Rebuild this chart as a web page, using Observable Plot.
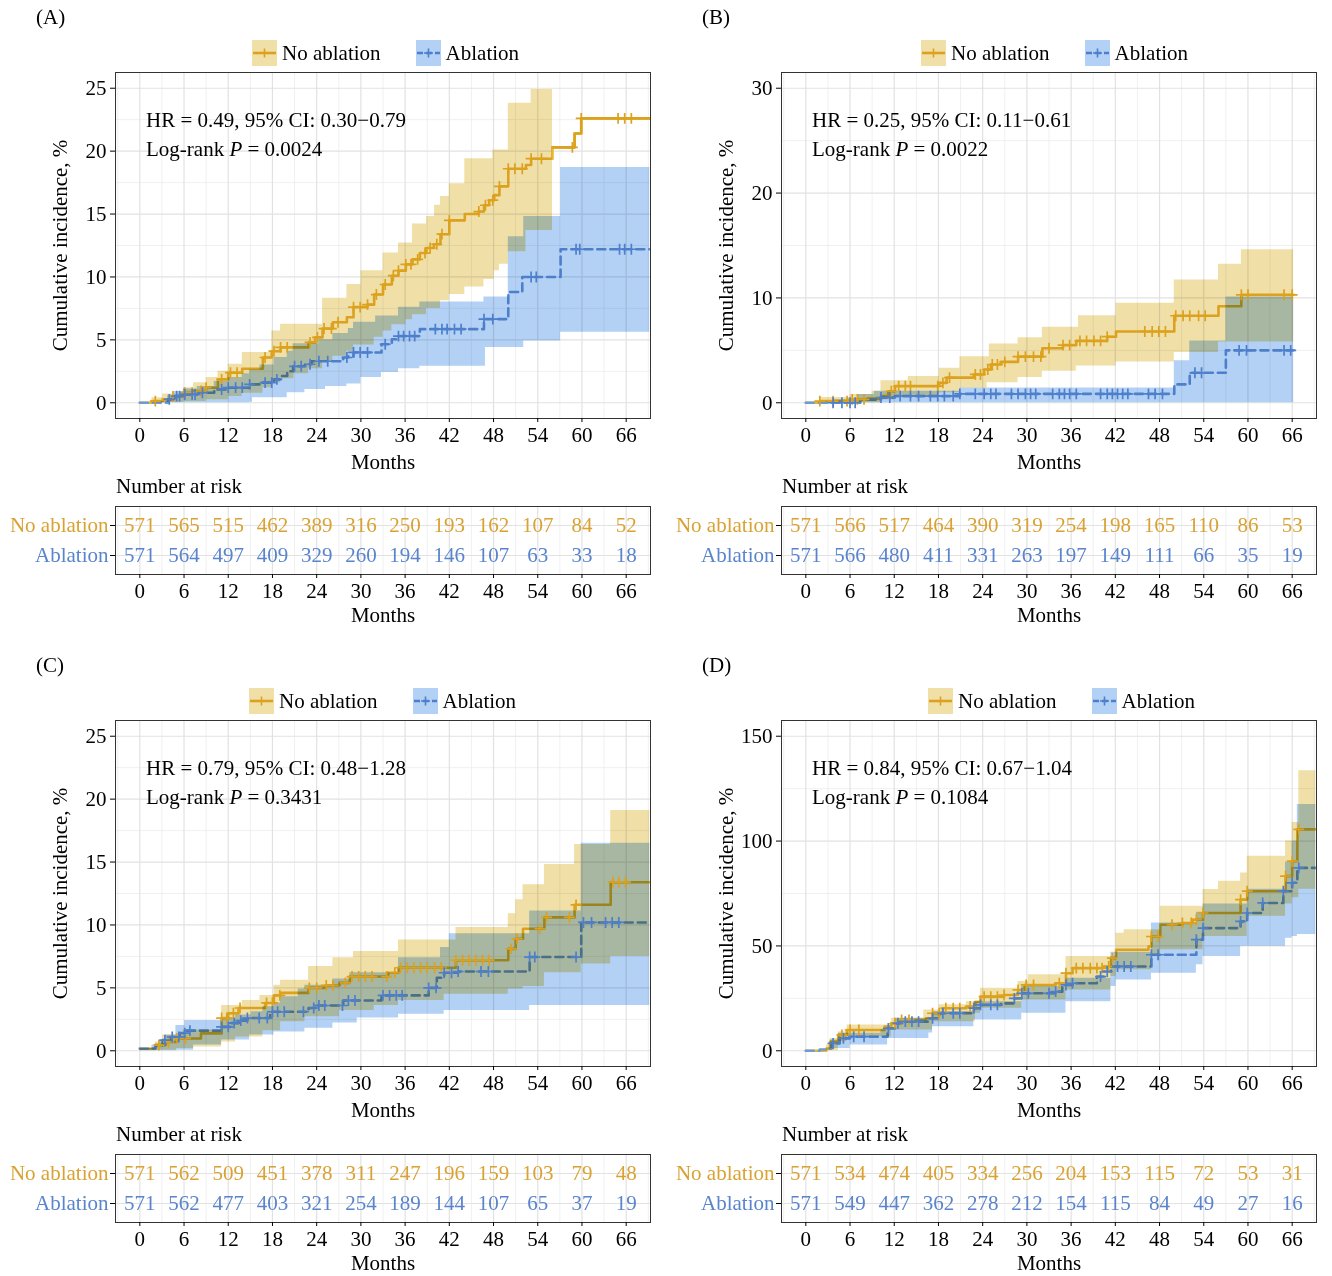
<!DOCTYPE html>
<html><head><meta charset="utf-8">
<script src="https://cdn.jsdelivr.net/npm/d3@7"></script>
<script src="https://cdn.jsdelivr.net/npm/@observablehq/plot@0.6"></script>
<style>
body{margin:0;background:#fff;}
#root{position:relative;width:1332px;height:1276px;overflow:hidden;font-family:"Liberation Serif","Times New Roman",serif;color:#000;background:#fff;}
.abs{position:absolute;white-space:nowrap;font-size:21px;line-height:24px;}
.legend{display:flex;align-items:center;height:26px;}
.legend .item{display:flex;align-items:center;margin-right:35px;line-height:26px;}
.legend svg{margin-right:5px;display:block;}
</style></head><body><div id="root"></div><script>
// ---------- shared tick labels / categories ----------
const X_TICKS = [0,6,12,18,24,30,36,42,48,54,60,66];
const X_MINOR = [-3,3,9,15,21,27,33,39,45,51,57,63,69];
const GROUPS = ["No ablation","Ablation"];
const PANEL_LABELS = ["(A)","(B)","(C)","(D)"];
const HR_TEXT = ["HR = 0.49, 95% CI: 0.30\u22120.79","HR = 0.25, 95% CI: 0.11\u22120.61","HR = 0.79, 95% CI: 0.48\u22121.28","HR = 0.84, 95% CI: 0.67\u22121.04"];
const P_TEXT = ["0.0024","0.0022","0.3431","0.1084"];
const Y_TICKS_A = [0,5,10,15,20,25];
const Y_MINOR_A = [2.5,7.5,12.5,17.5,22.5];
const Y_TICKS_B = [0,10,20,30];
const Y_MINOR_B = [5,15,25];
const Y_TICKS_C = [0,5,10,15,20,25];
const Y_MINOR_C = [2.5,7.5,12.5,17.5,22.5];
const Y_TICKS_D = [0,50,100,150];
const Y_MINOR_D = [25,75,125];

// ---------- Panel A ----------
const A_noEst = [[0,0],[1.65,0.13],[3.1,0.27],[4.5,0.5],[5.9,0.8],[7.3,0.93],[9.0,1.2],[10.6,1.86],[12.0,2.39],[13.9,2.7],[16.7,3.6],[17.9,4.1],[19.1,4.4],[22.9,4.8],[23.8,5.2],[24.8,5.9],[26.2,6.4],[28.1,6.8],[29.0,7.6],[30.9,7.8],[31.8,8.6],[33.0,9.4],[34.2,10.1],[35.1,10.5],[36.1,11.0],[37.0,11.4],[38.0,11.9],[38.9,12.3],[39.9,12.6],[40.8,13.4],[42.0,14.5],[44.1,15.0],[46.0,15.2],[46.7,15.7],[47.4,16.1],[48.1,16.5],[48.8,17.2],[50.0,18.6],[52.4,18.9],[53.1,19.4],[56.0,20.3],[59.0,21.4],[59.9,22.6],[69.2,22.6]];
const A_noHi = [[0,0],[1.65,0.4],[3.1,0.7],[5.9,1.2],[7.3,1.6],[9.0,2.0],[10.6,2.5],[12.0,3.06],[13.9,4.0],[17.9,5.7],[19.1,6.25],[24.8,8.3],[28.1,9.4],[30.0,10.5],[33.0,11.9],[35.1,12.7],[37.0,14.2],[38.9,14.8],[40.0,15.7],[40.8,16.4],[42.0,17.4],[44.1,19.4],[47.9,20.1],[50.0,23.8],[53.1,24.9],[56.0,24.9]];
const A_noLo = [[0,0],[3.1,0.02],[5.9,0.1],[9.0,0.25],[12.0,0.5],[13.9,0.75],[16.7,1.2],[17.9,1.6],[19.1,1.9],[20.9,2.3],[22.9,2.7],[24.8,3.3],[26.2,3.7],[28.1,4.1],[29.0,4.6],[31.8,5.2],[33.0,5.7],[34.2,6.2],[36.1,6.6],[37.0,7.0],[38.9,7.5],[40.8,8.1],[42.0,8.6],[44.1,9.2],[46.7,9.8],[48.1,10.5],[48.8,11.0],[50.0,12.0],[52.4,13.7],[56.0,13.7]];
const A_noCens = [2.1,4.5,6.1,7.1,8.3,9.0,11.1,12.3,13.2,17.0,18.2,19.1,20.0,23.1,24.1,25.0,26.0,26.9,29.0,29.9,30.9,32.1,33.3,34.4,35.1,36.1,36.8,37.7,38.7,39.4,40.3,41.0,42.0,46.0,46.9,47.9,48.8,50.0,50.9,51.9,53.1,54.5,58.7,59.9,64.9,65.8,66.7];
const A_abEst = [[0,0],[1.65,0],[3.8,0.27],[4.7,0.53],[5.9,0.66],[7.8,0.8],[10.1,1.06],[12.0,1.2],[14.9,1.46],[16.3,1.6],[18.2,1.86],[19.1,2.13],[20.0,2.5],[20.8,2.9],[22.4,3.06],[23.3,3.3],[27.6,3.6],[28.3,3.7],[29.0,4.0],[32.8,4.65],[34.2,5.05],[35.1,5.3],[38.0,5.85],[46.7,6.65],[50.0,8.8],[51.9,10.0],[57.1,12.2],[69.2,12.2]];
const A_abHi = [[0,0],[1.65,0.1],[3.8,0.6],[4.7,0.9],[5.9,1.1],[7.8,1.3],[10.1,1.7],[12.0,2.0],[13.9,2.3],[14.9,2.6],[16.3,3.0],[18.2,3.6],[20.0,4.1],[20.8,4.7],[24.3,5.0],[26.2,5.5],[28.3,5.9],[29.0,6.4],[32.0,6.9],[35.1,7.6],[38.0,8.0],[46.7,8.4],[50.0,13.2],[52.1,14.8],[57.1,18.7],[69.2,18.7]];
const A_abLo = [[0,0],[14.9,0.05],[15.3,0.4],[20.0,0.8],[22.4,1.05],[25.2,1.3],[28.1,1.5],[30.0,2.0],[32.8,2.4],[35.1,2.7],[38.0,2.9],[46.9,4.4],[52.1,4.9],[57.1,5.6],[69.2,5.6]];
const A_abCens = [4.0,5.0,5.4,6.1,7.1,7.5,8.5,11.1,12.0,13.0,13.9,14.9,17.0,17.9,18.6,21.0,21.9,23.1,24.3,25.5,28.1,29.0,29.9,30.9,33.3,35.1,35.8,36.6,37.3,40.1,41.0,41.7,42.7,43.6,46.7,47.9,53.1,53.8,59.2,59.7,65.1,65.8,66.7];
const A_noRisk = [571,565,515,462,389,316,250,193,162,107,84,52];
const A_abRisk = [571,564,497,409,329,260,194,146,107,63,33,18];

// ---------- Panel B ----------
const B_noEst = [[0,0],[1.9,0.16],[6.0,0.32],[8.4,0.4],[10.2,0.63],[11.2,1.1],[12.1,1.59],[18.1,1.9],[19.1,2.4],[22.8,2.7],[24.2,3.17],[25.1,3.65],[26.5,3.9],[28.8,4.4],[32.1,5.2],[34.9,5.5],[36.7,5.9],[40.9,6.3],[42.1,6.8],[50.0,8.3],[56.0,9.2],[59.1,10.3],[66.2,10.3]];
const B_noHi = [[0,0],[1.9,0.5],[6.0,0.8],[9.0,1.1],[10.2,2.1],[13.9,2.5],[18.1,3.3],[20.9,4.4],[24.9,5.6],[28.8,6.2],[32.1,7.2],[37.0,8.3],[42.1,9.5],[50.0,11.7],[56.0,13.2],[59.1,14.6],[66.2,14.6]];
const B_noLo = [[0,0],[10.2,0.3],[12.1,0.6],[18.1,0.95],[20.9,1.4],[24.6,1.9],[28.8,2.4],[32.1,3.0],[36.7,3.5],[42.1,3.9],[50.0,4.8],[56.0,5.8],[66.2,5.8]];
const B_noCens = [1.9,3.7,5.6,6.3,7.0,7.9,11.6,12.6,13.5,14.2,17.9,18.6,19.5,23.0,23.7,24.7,25.3,26.0,27.0,28.8,29.8,30.9,31.9,33.0,34.9,35.8,37.2,38.1,39.1,40.0,40.9,46.0,47.0,47.9,48.8,50.2,51.2,52.1,53.3,54.2,59.1,60.0,64.9,66.0];
const B_abEst = [[0,0],[7.4,0.3],[10.2,0.5],[12.1,0.63],[20.9,0.85],[50.0,1.75],[52.1,2.86],[57.0,5.0],[66.2,5.0]];
const B_abHi = [[0,0],[3.7,0.3],[7.0,0.8],[9.3,1.1],[20.9,1.4],[50.0,4.0],[52.1,5.9],[57.0,10.1],[66.2,10.1]];
const B_abLo = [[0,0],[66.2,0]];
const B_abCens = [3.7,4.9,6.0,6.7,10.2,11.4,12.8,14.2,15.3,16.9,17.9,18.8,20.0,20.9,23.0,24.2,25.1,25.8,27.9,28.8,29.8,30.5,31.2,33.5,34.4,35.1,35.8,36.7,40.0,40.9,41.6,42.3,43.0,43.7,46.5,47.4,48.4,52.8,53.7,58.8,59.8,64.9,65.8];
const B_noRisk = [571,566,517,464,390,319,254,198,165,110,86,53];
const B_abRisk = [571,566,480,411,331,263,197,149,111,66,35,19];

// ---------- Panel C ----------
const C_noEst = [[0,0.18],[2.1,0.45],[3.5,0.7],[5.0,0.98],[8.3,1.38],[11.1,2.6],[12.0,2.98],[13.4,3.4],[17.0,3.8],[18.2,4.4],[19.1,4.6],[22.9,5.0],[25.2,5.2],[27.1,5.4],[28.5,5.9],[33.7,6.2],[35.1,6.6],[42.9,7.2],[50.0,8.1],[51.0,8.9],[52.0,9.7],[54.9,10.6],[59.0,11.6],[63.9,13.4],[69.2,13.4]];
const C_noHi = [[0,0.18],[2.1,0.7],[3.1,1.25],[5.9,1.65],[11.1,3.6],[13.9,4.0],[16.3,4.4],[18.2,5.2],[19.1,5.6],[22.9,6.7],[26.2,7.4],[29.0,7.9],[35.1,8.8],[42.9,9.8],[50.0,10.9],[51.0,12.0],[52.0,13.2],[54.9,14.8],[59.0,16.4],[63.9,19.1],[69.2,19.1]];
const C_noLo = [[0,0],[2.1,0.05],[5.0,0.18],[7.3,0.3],[11.1,0.7],[13.0,1.1],[16.7,1.6],[19.1,2.3],[22.4,2.7],[27.1,3.2],[31.8,3.6],[35.1,4.0],[41.3,4.5],[50.0,4.9],[52.0,5.1],[54.9,6.2],[59.9,6.9],[63.9,7.5],[69.2,7.5]];
const C_noCens = [2.6,3.9,5.0,6.2,11.1,11.8,12.7,13.6,17.2,18.0,19.0,23.0,24.0,25.3,26.2,27.9,28.8,29.7,30.6,31.5,33.5,34.6,35.4,36.3,37.2,38.1,39.0,40.0,40.9,42.9,43.8,44.7,45.6,46.5,47.4,50.4,51.2,54.3,55.2,58.3,59.2,64.2,65.0,65.9];
const C_abEst = [[0,0.18],[2.1,0.45],[3.1,0.85],[4.2,1.1],[5.4,1.4],[6.4,1.6],[11.1,1.9],[12.3,2.2],[13.4,2.4],[14.6,2.6],[17.7,3.1],[22.9,3.4],[23.8,3.6],[27.6,4.0],[32.8,4.4],[39.2,5.0],[40.3,5.8],[41.3,6.2],[43.2,6.3],[52.9,7.45],[59.9,10.2],[69.2,10.2]];
const C_abHi = [[0,0.18],[1.65,0.45],[2.6,0.85],[3.5,1.25],[4.9,2.0],[6.1,2.4],[11.1,2.6],[13.0,2.85],[15.1,3.1],[16.7,3.5],[18.2,3.8],[19.1,4.3],[21.5,4.9],[22.4,5.2],[26.2,5.7],[28.5,6.2],[35.1,7.4],[40.8,8.2],[42.0,9.3],[52.9,11.1],[59.9,16.5],[69.2,16.5]];
const C_abLo = [[0,0],[5.0,0.05],[7.3,0.45],[11.1,0.85],[14.9,1.25],[18.2,1.5],[22.4,1.8],[26.2,2.2],[29.5,2.6],[35.1,2.9],[41.3,3.2],[52.9,3.6],[69.2,3.6]];
const C_abCens = [3.4,4.4,5.3,6.1,6.8,11.1,12.0,12.8,13.7,14.6,16.2,17.3,18.0,18.7,19.6,22.2,23.6,24.3,25.1,27.5,28.3,29.2,33.0,33.9,34.8,35.6,39.2,40.2,41.3,42.3,43.2,46.3,47.3,52.9,53.6,59.2,60.2,61.3,63.2,64.1,65.0];
const C_noRisk = [571,562,509,451,378,311,247,196,159,103,79,48];
const C_abRisk = [571,562,477,403,321,254,189,144,107,65,37,19];

// ---------- Panel D ----------
const D_noEst = [[0,0],[2.8,1.1],[3.3,4.3],[4.4,7.5],[5.6,9.9],[10.7,11.5],[11.6,13.1],[12.8,14.7],[16.3,15.5],[17.2,17.9],[18.6,20.3],[21.8,21.1],[23.0,23.4],[23.7,25.8],[26.9,26.6],[28.8,29.0],[29.7,31.4],[33.9,32.2],[35.3,37.0],[36.2,39.4],[40.4,40.2],[41.4,44.2],[42.1,48.2],[46.5,49.8],[46.9,54.5],[48.1,60.1],[51.1,60.9],[52.5,62.5],[53.9,65.7],[59.0,72.1],[59.9,76.1],[65.1,83.3],[66.0,90.4],[66.7,105.6],[69.2,105.6]];
const D_noHi = [[0,0],[2.8,2.7],[3.3,5.9],[4.4,9.1],[5.6,12.3],[11.6,15.5],[16.0,19.5],[18.1,21.9],[21.8,23.4],[23.7,29.8],[28.8,33.0],[30.2,36.2],[35.3,45.0],[42.1,56.1],[43.2,57.7],[48.1,68.9],[53.9,76.9],[56.0,80.9],[59.0,84.8],[59.9,92.8],[65.1,100],[66.0,108.8],[66.9,133.5],[69.2,133.5]];
const D_noLo = [[0,0],[4.4,4.3],[5.6,6.7],[11.6,9.9],[17.2,13.9],[23.0,17.9],[23.7,20.3],[29.3,24.2],[35.3,29.0],[41.4,35.4],[42.1,38.6],[46.9,45.0],[48.1,48.2],[53.9,54.5],[59.9,64.1],[65.1,70.0],[66.0,73.0],[66.9,77.0],[69.2,77.0]];
const D_noCens = [4.9,6.0,7.2,12.1,13.0,14.0,17.2,18.1,19.0,20.0,20.9,22.3,24.2,25.1,26.0,26.9,28.8,29.9,30.9,34.4,35.3,36.7,37.6,38.6,39.5,40.2,41.1,41.6,46.9,47.8,49.7,51.1,52.3,53.0,53.9,59.0,59.9,65.1,66.0,66.9];
const D_abEst = [[0,0],[1.9,0.6],[2.8,1.1],[3.5,3.5],[4.6,5.9],[6.0,6.7],[11.1,10.7],[12.1,13.1],[12.8,13.9],[16.7,15.5],[18.1,17.9],[22.8,20.3],[23.7,21.9],[26.5,22.6],[28.3,25.0],[29.3,27.4],[33.9,28.2],[34.8,31.4],[36.2,32.2],[39.5,35.4],[40.4,37.8],[41.4,40.2],[46.9,45.8],[53.0,53.0],[53.9,58.5],[59.0,61.7],[59.9,65.7],[62.0,70.5],[64.8,76.1],[66.0,80.1],[66.7,87.2],[69.2,87.2]];
const D_abHi = [[0,0],[3.3,5.1],[4.4,8.3],[10.2,9.9],[12.1,15.5],[17.2,18.7],[22.8,23.4],[29.3,30.6],[35.3,34.6],[41.4,47.0],[46.9,60.9],[53.0,66.0],[53.9,70.0],[59.9,77.0],[65.1,90.0],[66.0,100.0],[66.7,117.5],[69.2,117.5]];
const D_abLo = [[0,0],[3.3,1.1],[6.0,2.7],[11.1,5.9],[16.7,8.5],[17.2,11.5],[22.8,14.7],[29.3,17.9],[35.3,23.4],[41.4,30.6],[42.1,33.8],[46.9,37.0],[53.0,41.0],[53.9,45.0],[59.0,49.8],[65.1,53.7],[66.0,54.5],[66.7,55.5],[69.2,55.5]];
const D_abCens = [3.7,5.1,6.5,7.9,11.2,12.5,13.5,14.4,15.3,17.2,18.6,20.0,20.9,22.8,23.7,25.1,26.0,28.3,29.3,30.2,33.0,33.9,35.3,36.2,40.0,40.9,42.3,43.2,44.1,46.9,47.8,53.0,53.9,59.0,59.9,62.0,64.8,66.0,66.9];
const D_noRisk = [571,534,474,405,334,256,204,153,115,72,53,31];
const D_abRisk = [571,549,447,362,278,212,154,115,84,49,27,16];

// ---------- styling ----------
const FONT = '"Liberation Serif", "Times New Roman", serif';
const ORANGE = "#DCA21E", BLUE = "#4E7FCC";
const ORANGE_UNDER = "#EAB82E", BLUE_UNDER = "#6F9BD4";
const O_FILL = "#F0E0A8", B_FILL = "#B3D1F5";
const O_TEXT = "#D9A233", B_TEXT = "#5A84CC";
const GRID_MAJOR = "#e2e2e2", GRID_MINOR = "#ececec";
const X_DOMAIN = [-3.3, 69.3];
const DASH = "8,5";

const PANELS = [
  {i:0, ox:0,   oy:0,   yDomain:[-1.25,26.25], yTicks:Y_TICKS_A, yMinor:Y_MINOR_A, noEst:A_noEst, noLo:A_noLo, noHi:A_noHi, noCens:A_noCens, abEst:A_abEst, abLo:A_abLo, abHi:A_abHi, abCens:A_abCens, noRisk:A_noRisk, abRisk:A_abRisk, legendLeft:252},
  {i:1, ox:666, oy:0,   yDomain:[-1.5,31.5],   yTicks:Y_TICKS_B, yMinor:Y_MINOR_B, noEst:B_noEst, noLo:B_noLo, noHi:B_noHi, noCens:B_noCens, abEst:B_abEst, abLo:B_abLo, abHi:B_abHi, abCens:B_abCens, noRisk:B_noRisk, abRisk:B_abRisk, legendLeft:255},
  {i:2, ox:0,   oy:648, yDomain:[-1.25,26.25], yTicks:Y_TICKS_C, yMinor:Y_MINOR_C, noEst:C_noEst, noLo:C_noLo, noHi:C_noHi, noCens:C_noCens, abEst:C_abEst, abLo:C_abLo, abHi:C_abHi, abCens:C_abCens, noRisk:C_noRisk, abRisk:C_abRisk, legendLeft:249},
  {i:3, ox:666, oy:648, yDomain:[-7.5,157.5],  yTicks:Y_TICKS_D, yMinor:Y_MINOR_D, noEst:D_noEst, noLo:D_noLo, noHi:D_noHi, noCens:D_noCens, abEst:D_abEst, abLo:D_abLo, abHi:D_abHi, abCens:D_abCens, noRisk:D_noRisk, abRisk:D_abRisk, legendLeft:262}
];

function stepAt(est, t){ let v = est[0][1]; for (const d of est){ if (d[0] <= t + 1e-9) v = d[1]; else break; } return v; }
function ribbon(lo, hi){
  const ts = Array.from(new Set([...lo.map(d=>d[0]), ...hi.map(d=>d[0])])).sort((a,b)=>a-b);
  const end = hi[hi.length-1][0];
  return ts.filter(t => t <= end).map(t => ({t, lo: stepAt(lo,t), hi: stepAt(hi,t)}));
}
function tail(est, tEnd){
  const pts = est.filter(d => d[0] > tEnd + 1e-9);
  if (!pts.length) return [];
  return [[tEnd, stepAt(est, tEnd)], ...pts];
}
const pts = est => est.map(d => ({t:d[0], v:d[1]}));
const cens = (est, cs) => cs.map(t => ({t, v: stepAt(est, t)}));
const baseStyle = {fontFamily: FONT, fontSize: "21px", color: "#000", background: "transparent", overflow: "visible"};

function mainPlot(P){
  const noRib = ribbon(P.noLo, P.noHi), abRib = ribbon(P.abLo, P.abHi);
  const noEnd = noRib[noRib.length-1].t, abEnd = abRib[abRib.length-1].t;
  const svg = Plot.plot({
    width: 660, height: 420, marginLeft: 115, marginRight: 10, marginTop: 12, marginBottom: 62,
    style: baseStyle,
    x: {domain: X_DOMAIN}, y: {domain: P.yDomain},
    marks: [
      Plot.ruleX(X_MINOR, {stroke: GRID_MINOR, strokeWidth: 0.8}),
      Plot.ruleY(P.yMinor, {stroke: GRID_MINOR, strokeWidth: 0.8}),
      Plot.ruleX(X_TICKS, {stroke: GRID_MAJOR, strokeWidth: 1.2}),
      Plot.ruleY(P.yTicks, {stroke: GRID_MAJOR, strokeWidth: 1.2}),
      Plot.line(pts(P.noEst), {x:"t", y:"v", curve:"step-after", stroke: ORANGE_UNDER, strokeWidth: 2.6, clip: true}),
      Plot.line(pts(P.abEst), {x:"t", y:"v", curve:"step-after", stroke: BLUE_UNDER, strokeWidth: 2.6, strokeDasharray: DASH, clip: true}),
      Plot.areaY(noRib, {x:"t", y1:"lo", y2:"hi", curve:"step-after", fill: O_FILL, clip: true}),
      Plot.areaY(abRib, {x:"t", y1:"lo", y2:"hi", curve:"step-after", fill: B_FILL, clip: true}),
      Plot.line(pts(tail(P.noEst, noEnd)), {x:"t", y:"v", curve:"step-after", stroke: ORANGE, strokeWidth: 2.6, clip: true}),
      Plot.line(pts(tail(P.abEst, abEnd)), {x:"t", y:"v", curve:"step-after", stroke: BLUE, strokeWidth: 2.6, strokeDasharray: DASH, clip: true}),
      Plot.dot(cens(P.noEst, P.noCens), {x:"t", y:"v", symbol:"plus", r:3.6, stroke: ORANGE, strokeWidth: 1.7}),
      Plot.dot(cens(P.abEst, P.abCens), {x:"t", y:"v", symbol:"plus", r:3.6, stroke: BLUE, strokeWidth: 1.7}),
      Plot.frame({stroke: "#333", strokeWidth: 1}),
      Plot.axisX(X_TICKS, {tickSize: 4, tickPadding: 5, label: null, tickFormat: d => String(d)}),
      Plot.axisY(P.yTicks, {tickSize: 5, tickPadding: 4, label: null, tickFormat: d => String(d)}),
      Plot.text(["Months"], {frameAnchor: "bottom", dy: 44, text: d => d, fontSize: 21, lineAnchor: "middle", textAnchor: "middle"}),
      Plot.text(["Cumulative incidence, %"], {frameAnchor: "left", dx: -55, rotate: -90, text: d => d, fontSize: 21, textAnchor: "middle", lineAnchor: "middle"})
    ]
  });
  svg.querySelectorAll('g[aria-label="area"]').forEach(g => g.style.mixBlendMode = "multiply");
  return svg;
}

function tablePlot(P){
  const rows = [];
  X_TICKS.forEach((t, k) => {
    rows.push({t, g: GROUPS[0], n: P.noRisk[k], c: O_TEXT});
    rows.push({t, g: GROUPS[1], n: P.abRisk[k], c: B_TEXT});
  });
  return Plot.plot({
    width: 660, height: 138, marginLeft: 115, marginRight: 10, marginTop: 10, marginBottom: 60,
    style: baseStyle,
    x: {domain: X_DOMAIN},
    y: {type: "point", domain: GROUPS, padding: 0.6},
    color: {type: "identity"},
    marks: [
      Plot.ruleX(X_MINOR, {stroke: GRID_MINOR, strokeWidth: 0.8}),
      Plot.ruleX(X_TICKS, {stroke: GRID_MAJOR, strokeWidth: 1.2}),
      Plot.ruleY(GROUPS, {y: d => d, stroke: GRID_MAJOR, strokeWidth: 1.2}),
      Plot.text(rows, {x: "t", y: "g", text: d => String(d.n), fill: "c", fontSize: 21}),
      Plot.frame({stroke: "#333", strokeWidth: 1}),
      Plot.axisX(X_TICKS, {tickSize: 4, tickPadding: 5, label: null, tickFormat: d => String(d)}),
      Plot.axisY(GROUPS, {tickSize: 5, tickPadding: 2, label: null, tickFormat: () => ""}),
      Plot.text(GROUPS, {y: d => d, text: d => d, frameAnchor: "left", dx: -7, textAnchor: "end", lineAnchor: "middle", fill: d => d === GROUPS[0] ? O_TEXT : B_TEXT, fontSize: 21}),
      Plot.text(["Months"], {frameAnchor: "bottom", dy: 41, text: d => d, fontSize: 21, lineAnchor: "middle", textAnchor: "middle"})
    ]
  });
}

function swatch(fill, stroke, dashed){
  return `<svg width="25" height="26"><rect width="25" height="26" fill="${fill}"/>` +
    `<line x1="1" x2="24" y1="13" y2="13" stroke="${stroke}" stroke-width="2.6" ${dashed ? 'stroke-dasharray="6,3"' : ''}/>` +
    `<path d="M12.5 8.5V17.5M8 13H17" stroke="${stroke}" stroke-width="1.6" fill="none"/></svg>`;
}

const root = document.getElementById("root");
function addDiv(html, left, top, extra){
  const d = document.createElement("div");
  d.className = "abs";
  d.style.left = left + "px"; d.style.top = top + "px";
  if (extra) Object.assign(d.style, extra);
  d.innerHTML = html;
  root.appendChild(d);
  return d;
}
function place(svg, left, top){
  svg.style.position = "absolute"; svg.style.left = left + "px"; svg.style.top = top + "px";
  svg.style.maxWidth = "none";
  root.appendChild(svg);
}

PANELS.forEach(P => {
  place(mainPlot(P), P.ox, P.oy + 60);
  place(tablePlot(P), P.ox, P.oy + 496);
  addDiv(PANEL_LABELS[P.i], P.ox + 36, P.oy + 5);
  const lg = addDiv(
    `<div class="item">${swatch(O_FILL, ORANGE, false)}<span>${GROUPS[0]}</span></div>` +
    `<div class="item">${swatch(B_FILL, BLUE, true)}<span>${GROUPS[1]}</span></div>`,
    P.ox + P.legendLeft, P.oy + 40);
  lg.classList.add("legend");
  addDiv(`${HR_TEXT[P.i]}<br>Log-rank <i>P</i> = ${P_TEXT[P.i]}`, P.ox + 146, P.oy + 106, {lineHeight: "29px"});
  addDiv("Number at risk", P.ox + 116, P.oy + 474);
});
</script></body></html>
